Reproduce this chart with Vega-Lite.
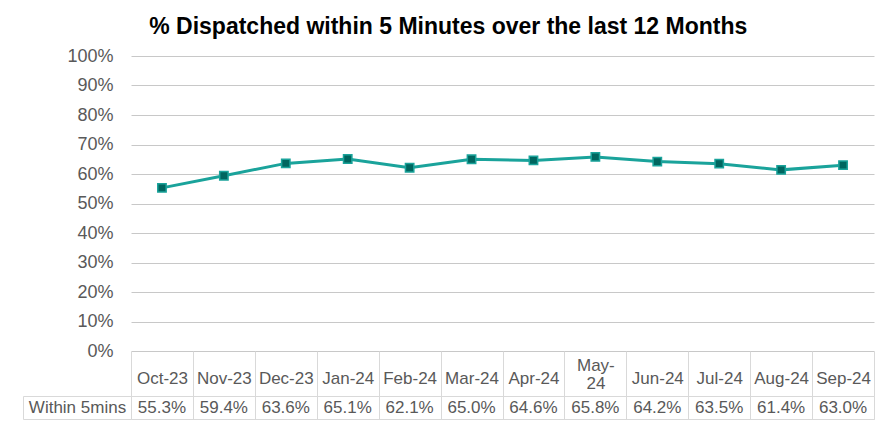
{
  "$schema": "https://vega.github.io/schema/vega-lite/v6.json",
  "padding": {"left": 22, "top": 16, "right": 14, "bottom": 10},
  "background": "white",
  "title": {
    "text": "% Dispatched within 5 Minutes over the last 12 Months",
    "fontSize": 23,
    "fontWeight": "bold",
    "font": "Liberation Sans",
    "color": "#000000",
    "anchor": "middle",
    "offset": 8
  },
  "data": {
    "values": [
      {"month": "Oct-23", "value": 0.553, "row": "Within 5mins"},
      {"month": "Nov-23", "value": 0.594, "row": "Within 5mins"},
      {"month": "Dec-23", "value": 0.636, "row": "Within 5mins"},
      {"month": "Jan-24", "value": 0.651, "row": "Within 5mins"},
      {"month": "Feb-24", "value": 0.621, "row": "Within 5mins"},
      {"month": "Mar-24", "value": 0.650, "row": "Within 5mins"},
      {"month": "Apr-24", "value": 0.646, "row": "Within 5mins"},
      {"month": "May-24", "value": 0.658, "row": "Within 5mins"},
      {"month": "Jun-24", "value": 0.642, "row": "Within 5mins"},
      {"month": "Jul-24", "value": 0.635, "row": "Within 5mins"},
      {"month": "Aug-24", "value": 0.614, "row": "Within 5mins"},
      {"month": "Sep-24", "value": 0.630, "row": "Within 5mins"}
    ]
  },
  "bounds": "flush",
  "spacing": 45,
  "vconcat": [
    {
      "width": 743,
      "height": 295,
      "view": {"stroke": null},
      "encoding": {
        "x": {
          "field": "month",
          "type": "nominal",
          "sort": null,
          "scale": {"type": "band", "paddingInner": 0, "paddingOuter": 0},
          "axis": {
            "title": null,
            "orient": "bottom",
            "domain": false,
            "grid": false,
            "ticks": true,
            "tickBand": "extent",
            "tickSize": 45,
            "tickColor": "#d9d9d9",
            "labelAngle": 0,
            "labelBaseline": "middle",
            "labelPadding": {"condition": {"test": "datum.value == 'May-24'", "value": -31}, "value": -18},
            "labelFontSize": 17,
            "labelFont": "Liberation Sans",
            "labelColor": "#595959",
            "labelLineHeight": 18,
            "labelExpr": "datum.value == 'May-24' ? ['May-', '24'] : datum.label",
            "minExtent": 45,
            "maxExtent": 45
          }
        },
        "y": {
          "field": "value",
          "type": "quantitative",
          "scale": {"domain": [0, 1], "nice": false},
          "axis": {
            "title": null,
            "format": ".0%",
            "tickCount": 11,
            "values": [0, 0.1, 0.2, 0.3, 0.4, 0.5, 0.6, 0.7, 0.8, 0.9, 1],
            "domain": false,
            "ticks": false,
            "grid": true,
            "gridColor": "#c8c8c8",
            "gridWidth": 1,
            "labelPadding": 18,
            "labelFontSize": 18,
            "labelFont": "Liberation Sans",
            "labelColor": "#595959",
            "labelOverlap": false,
            "minExtent": 108,
            "maxExtent": 108
          }
        }
      },
      "layer": [
        {"mark": {"type": "line", "color": "#1aa39b", "strokeWidth": 3}},
        {"mark": {"type": "point", "shape": "square", "filled": true, "size": 70, "color": "#00665f", "stroke": "#1aa39b", "strokeWidth": 1.5, "opacity": 1}}
      ]
    },
    {
      "width": 743,
      "height": 23,
      "view": {"stroke": "#d9d9d9", "strokeWidth": 1},
      "mark": {"type": "text", "fontSize": 17, "font": "Liberation Sans", "color": "#595959"},
      "encoding": {
        "x": {
          "field": "month",
          "type": "nominal",
          "sort": null,
          "scale": {"type": "band", "paddingInner": 0, "paddingOuter": 0},
          "axis": {
            "title": null,
            "labels": false,
            "ticks": false,
            "domain": false,
            "grid": true,
            "tickBand": "extent",
            "gridColor": "#d9d9d9",
            "maxExtent": 0,
            "minExtent": 0
          }
        },
        "y": {
          "field": "row",
          "type": "nominal",
          "axis": {
            "title": null,
            "offset": 108,
            "domain": true,
            "domainColor": "#d9d9d9",
            "grid": false,
            "ticks": true,
            "tickBand": "extent",
            "tickSize": -108,
            "tickColor": "#d9d9d9",
            "labelAlign": "center",
            "labelPadding": 54,
            "labelFontSize": 17,
            "labelFont": "Liberation Sans",
            "labelColor": "#595959"
          }
        },
        "text": {"field": "value", "type": "quantitative", "format": ".1%"}
      }
    }
  ]
}
